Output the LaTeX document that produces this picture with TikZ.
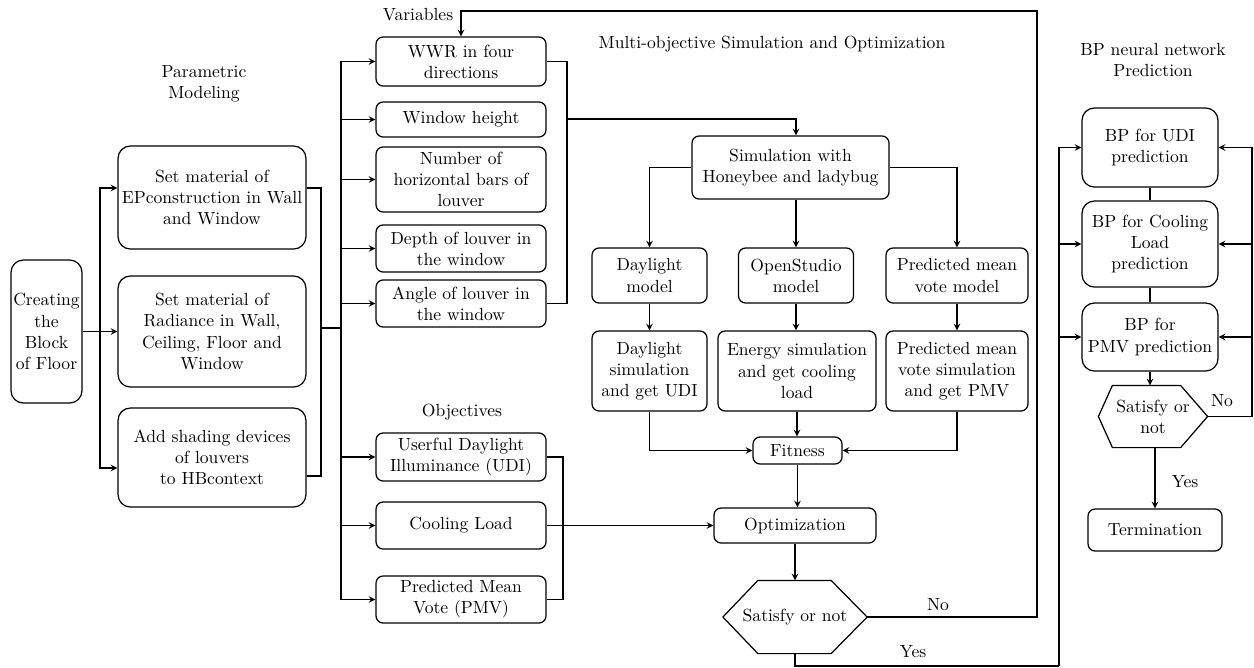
\documentclass[tikz,border=0pt]{standalone}
\usepackage{amsmath}
\usepackage{tikz}

\begin{document}
\begin{tikzpicture}[x=0.02cm, y=-0.02cm, line width=0.7pt,
    box/.style={draw, rounded corners=4pt, align=center, inner sep=1pt},
    bigbox/.style={draw, rounded corners=7pt, align=center, inner sep=1pt},
    decide/.style={align=center, inner sep=1pt},
    lbl/.style={align=center}
]
        \useasboundingbox (0,0) rectangle (1254,667);

        % parametric modeling
        \node [bigbox, minimum width=1.42cm, minimum height=2.86cm]
            (creat) at (46.5,331.5) {Creating\\the\\Block\\of Floor};
        \node [bigbox, minimum width=3.76cm, minimum height=2.06cm]
            (mat1) at (212,197.5) {Set material of\\EPconstruction in Wall\\and Window};
        \node [bigbox, minimum width=3.76cm, minimum height=2.22cm]
            (mat2) at (212,331.5) {Set material of\\Radiance in Wall,\\Ceiling, Floor and\\Window};
        \node [bigbox, minimum width=3.76cm, minimum height=1.98cm]
            (shade) at (212,457.5) {Add shading devices\\of louvers\\to HBcontext};
        \node [lbl] (parlbl) at (204,84) {Parametric\\Modeling};

        % variables
        \node [box, minimum width=3.4cm, minimum height=0.98cm]
            (wwr) at (461,61.5) {WWR in four\\directions};
        \node [box, minimum width=3.4cm, minimum height=0.7cm]
            (wheight) at (461,119.5) {Window height};
        \node [box, minimum width=3.4cm, minimum height=1.3cm]
            (bars) at (461,179.5) {Number of\\horizontal bars of\\louver};
        \node [box, minimum width=3.4cm, minimum height=0.94cm]
            (depth) at (461,248.5) {Depth of louver in\\the window};
        \node [box, minimum width=3.4cm, minimum height=0.94cm]
            (angle) at (461,303.5) {Angle of louver in\\the window};
        \node [lbl] (varlbl) at (418,15) {Variables};

        % objectives
        \node [box, minimum width=3.4cm, minimum height=0.96cm]
            (udi) at (461,457) {Userful Daylight\\Illuminance (UDI)};
        \node [box, minimum width=3.4cm, minimum height=0.94cm]
            (cool) at (461,525.5) {Cooling Load};
        \node [box, minimum width=3.4cm, minimum height=0.94cm]
            (pmv) at (461,599.5) {Predicted Mean\\Vote (PMV)};
        \node [lbl] (objlbl) at (462,412) {Objectives};

        % simulation and optimization
        \node [lbl] (simlbl) at (772,44) {Multi-objective Simulation and Optimization};
        \node [box, minimum width=3.94cm, minimum height=1.26cm]
            (sim) at (790.5,167.5) {Simulation with\\Honeybee and ladybug};
        \node [box, minimum width=2.3cm, minimum height=1.1cm]
            (dlmodel) at (649.5,275.5) {Daylight\\model};
        \node [box, minimum width=2.3cm, minimum height=1.1cm]
            (osmodel) at (796,275.5) {OpenStudio\\model};
        \node [box, minimum width=2.84cm, minimum height=1.1cm]
            (pmvmodel) at (957,275.5) {Predicted mean\\vote model};
        \node [box, minimum width=2.3cm, minimum height=1.6cm]
            (dlsim) at (649.5,371) {Daylight\\simulation\\and get UDI};
        \node [box, minimum width=3.16cm, minimum height=1.6cm]
            (energy) at (797,371) {Energy simulation\\and get cooling\\load};
        \node [box, minimum width=2.84cm, minimum height=1.6cm]
            (pmvsim) at (957,371) {Predicted mean\\vote simulation\\and get PMV};
        \node [box, minimum width=1.78cm, minimum height=0.54cm]
            (fitness) at (797.5,450.5) {Fitness};
        \node [box, minimum width=3.24cm, minimum height=0.7cm]
            (optim) at (795,525.5) {Optimization};
        \node [decide, minimum width=2.86cm, minimum height=1.44cm]
            (sat1) at (795,617) {Satisfy or not};
        \draw (sat1.west) -- ([xshift=0.7cm]sat1.north west)
            -- ([xshift=-0.72cm]sat1.north east) -- (sat1.east)
            -- ([xshift=-0.72cm]sat1.south east)
            -- ([xshift=0.7cm]sat1.south west) -- cycle;

        % BP prediction
        \node [lbl] (bplbl) at (1153,60) {BP neural network\\Prediction};
        \node [bigbox, minimum width=2.72cm, minimum height=1.58cm]
            (bpudi) at (1150,147.5) {BP for UDI\\prediction};
        \node [bigbox, minimum width=2.72cm, minimum height=1.72cm]
            (bpcool) at (1150,244) {BP for Cooling\\Load\\prediction};
        \node [bigbox, minimum width=2.72cm, minimum height=1.36cm]
            (bppmv) at (1150,337) {BP for\\PMV prediction};
        \node [decide, minimum width=2.16cm, minimum height=1.22cm]
            (sat2) at (1153,416.5) {Satisfy or\\not};
        \draw (sat2.west) -- ([xshift=0.28cm]sat2.north west)
            -- ([xshift=-0.54cm]sat2.north east) -- (sat2.east)
            -- ([xshift=-0.54cm]sat2.south east)
            -- ([xshift=0.28cm]sat2.south west) -- cycle;
        \node [box, minimum width=2.68cm, minimum height=0.84cm]
            (term) at (1155,530) {Termination};

        % bus points
        \coordinate (cbus) at (100,331.5);
        \coordinate (pbus) at (321,328);
        \coordinate (vbus) at (341,328);
        \coordinate (vout) at (567,119);
        \coordinate (obus) at (563,525.5);
        \coordinate (fb) at (1037,11);
        \coordinate (yb) at (1059,666);
        \coordinate (nb) at (1252,416.5);

        % left part
        \draw (creat.east) -- (cbus);
        \draw[-stealth] (cbus) |- ([yshift=0.19cm]mat1.west);
        \draw[-stealth] (cbus) -- (mat2.west);
        \draw[-stealth] (cbus) |- ([yshift=-0.21cm]shade.west);
        \draw ([yshift=0.19cm]mat1.east) -| (pbus);
        \draw ([yshift=-0.37cm]shade.east) -| (pbus);
        \draw (pbus) -- (vbus);
        \foreach \n in {wwr,wheight,bars,depth,angle,udi,cool,pmv}
            \draw[-stealth] (vbus) |- (\n.west);

        % variables and objectives
        \draw (wwr.east) -| (vout);
        \draw (angle.east) -| (vout);
        \draw[-stealth] (vout) -| (osmodel.north |- sim.north);
        \draw (udi.east) -| (obus);
        \draw (pmv.east) -| (obus);
        \draw[-stealth] (cool.east) -- (optim.west);

        % simulation
        \draw[-stealth] (sim.west) -| (dlmodel.north);
        \draw[-stealth] (sim.south -| osmodel.north) -- (osmodel.north);
        \draw[-stealth] (sim.east) -| (pmvmodel.north);
        \draw[-stealth] (dlmodel.south) -- (dlsim.north);
        \draw[-stealth] (osmodel.south) -- (energy.north -| osmodel.south);
        \draw[-stealth] (pmvmodel.south) -- (pmvsim.north);
        \draw[-stealth] (dlsim.south) |- (fitness.west);
        \draw[-stealth] (energy.south) -- (fitness.north -| energy.south);
        \draw[-stealth] (pmvsim.south) |- (fitness.east);
        \draw[-stealth] (fitness.south) -- (optim.north -| fitness.south);
        \draw[-stealth] (optim.south) -- (sat1.north);

        % loops
        \draw[-stealth] (sat1.east) -| (fb) -| (wwr.north);
        \node (no1) at (938,605) {No};
        \draw (sat1.south) |- (yb);
        \node (yes1) at (913,652) {Yes};
        \foreach \n in {bpudi,bpcool,bppmv}
            \draw[-stealth] (yb) |- (\n.west);

        % BP part
        \draw (bpudi) -- (bpcool);
        \draw (bpcool) -- (bppmv);
        \draw[-stealth] (bppmv.south) -- (sat2.north -| bppmv.south);
        \draw (sat2.east) -- (nb);
        \foreach \n in {bpudi,bpcool,bppmv}
            \draw[-stealth] (nb) |- (\n.east);
        \node (no2) at (1222,401) {No};
        \draw[-stealth] (sat2.south -| term.north) -- (term.north);
        \node (yes2) at (1185,482) {Yes};
\end{tikzpicture}
\end{document}
